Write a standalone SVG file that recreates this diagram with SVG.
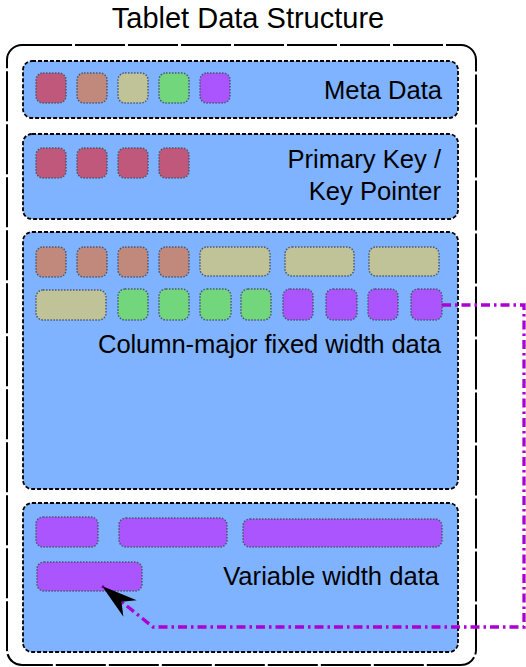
<svg xmlns="http://www.w3.org/2000/svg" width="526" height="667" viewBox="0 0 526 667">
<style>
.outer{fill:none;stroke:#000;stroke-width:2;stroke-dasharray:50 3}
.sec{fill:#80b3ff;stroke:#000;stroke-width:1.8;stroke-dasharray:4 2}
.cell{stroke:#4a5770;stroke-width:1.5;stroke-dasharray:1.5 1.5}
.rose{fill:#c0587c}.brown{fill:#c0897c}.khaki{fill:#c0c397}.green{fill:#72d67d}.purple{fill:#aa55ff}
.lbl{font-family:"Liberation Sans",Arial,sans-serif;font-size:25.6px;fill:#000;text-anchor:end}
.title{font-family:"Liberation Sans",Arial,sans-serif;font-size:29px;fill:#000;text-anchor:middle}
.link{fill:none;stroke:#aa00d4;stroke-width:3.3;stroke-dasharray:9 4 2.5 4}
</style>
<defs>
<marker id="arr" markerUnits="userSpaceOnUse" viewBox="-38 -12 40 24" refX="0" refY="0" markerWidth="40" markerHeight="24" orient="auto" overflow="visible">
<path d="M0,0 L-36,-10.6 L-25,0 L-36,10.6 Z" fill="#000"/>
</marker>
</defs>
<text class="title" x="248" y="28">Tablet Data Structure</text>
<g id="tablet">
<rect class="outer" x="7" y="45" width="469" height="620" rx="15"/>
</g>
<g id="meta">
<rect class="sec" x="23" y="61" width="435" height="57" rx="9"/>
<rect class="cell rose" x="36" y="73" width="30" height="30" rx="7"/>
<rect class="cell brown" x="77" y="73" width="30" height="30" rx="7"/>
<rect class="cell khaki" x="118" y="73" width="30" height="30" rx="7"/>
<rect class="cell green" x="159" y="73" width="30" height="30" rx="7"/>
<rect class="cell purple" x="200" y="73" width="30" height="30" rx="7"/>
<text class="lbl" x="442" y="99">Meta Data</text>
</g>
<g id="pk">
<rect class="sec" x="23" y="134" width="435" height="85" rx="9"/>
<rect class="cell rose" x="36" y="148" width="30" height="30" rx="7"/>
<rect class="cell rose" x="77" y="148" width="30" height="30" rx="7"/>
<rect class="cell rose" x="118" y="148" width="30" height="30" rx="7"/>
<rect class="cell rose" x="159" y="148" width="30" height="30" rx="7"/>
<text class="lbl" x="441" y="168">Primary Key /</text>
<text class="lbl" x="441" y="200">Key Pointer</text>
</g>
<g id="fixed">
<rect class="sec" x="23" y="232" width="435" height="257" rx="9"/>
<rect class="cell brown" x="36" y="247" width="30" height="30" rx="7"/>
<rect class="cell brown" x="77" y="247" width="30" height="30" rx="7"/>
<rect class="cell brown" x="118" y="247" width="30" height="30" rx="7"/>
<rect class="cell brown" x="159" y="247" width="30" height="30" rx="7"/>
<rect class="cell khaki" x="200" y="247" width="70" height="29" rx="7"/>
<rect class="cell khaki" x="285" y="247" width="69" height="29" rx="7"/>
<rect class="cell khaki" x="369" y="247" width="70" height="29" rx="7"/>
<rect class="cell khaki" x="36" y="290" width="70" height="30" rx="7"/>
<rect class="cell green" x="118" y="289" width="30" height="31" rx="7"/>
<rect class="cell green" x="159" y="289" width="30" height="31" rx="7"/>
<rect class="cell green" x="200" y="289" width="31" height="31" rx="7"/>
<rect class="cell green" x="241" y="289" width="30" height="31" rx="7"/>
<rect class="cell purple" x="283" y="289" width="30" height="31" rx="7"/>
<rect class="cell purple" x="326" y="289" width="31" height="31" rx="7"/>
<rect class="cell purple" x="368" y="289" width="30" height="31" rx="7"/>
<rect class="cell purple" x="411" y="289" width="31" height="31" rx="7"/>
<text class="lbl" x="441" y="353" textLength="343">Column-major fixed width data</text>
</g>
<g id="variable">
<rect class="sec" x="23" y="503" width="435" height="149" rx="9"/>
<rect class="cell purple" x="36" y="517" width="62" height="30" rx="7"/>
<rect class="cell purple" x="119" y="518" width="108" height="29" rx="7"/>
<rect class="cell purple" x="243" y="519" width="199" height="28" rx="7"/>
<rect class="cell purple" x="37" y="562" width="105" height="29" rx="7"/>
<text class="lbl" x="439" y="585">Variable width data</text>
</g>
<g id="connectors">
<path class="link" d="M442,305 H524 V627 H153 L102,586" marker-end="url(#arr)"/>
</g>
</svg>
